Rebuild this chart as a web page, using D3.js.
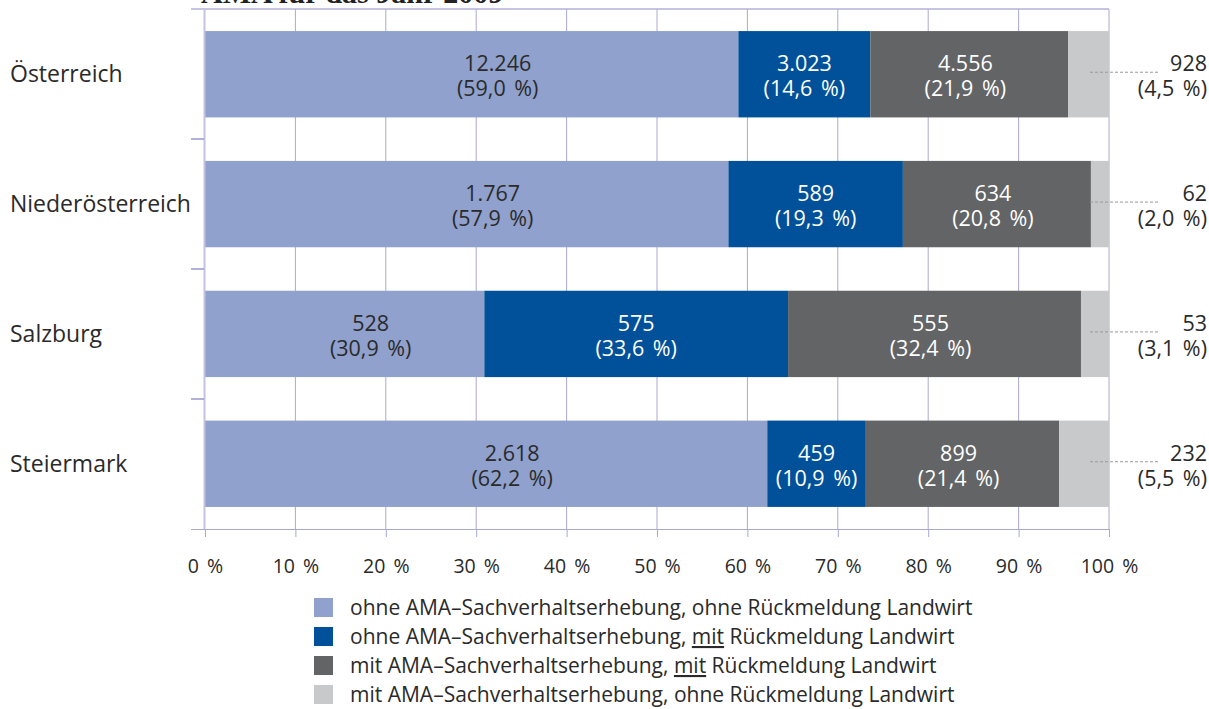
<!DOCTYPE html>
<html>
<head>
<meta charset="utf-8">
<script src="https://cdn.jsdelivr.net/npm/d3@7"></script>
<style>
body{margin:0;background:#fff;}
text{font-family:"Open Sans",Arial,sans-serif;}
</style>
</head>
<body>
<div id="chart"></div>
<script>
var categories = ["Österreich","Niederösterreich","Salzburg","Steiermark"];
var counts = [
    [12246,3023,4556,928],
    [1767,589,634,62],
    [528,575,555,53],
    [2618,459,899,232]
];
var percents = [
    [59.0,14.6,21.9,4.5],
    [57.9,19.3,20.8,2.0],
    [30.9,33.6,32.4,3.1],
    [62.2,10.9,21.4,5.5]
];
var ticks = [0,10,20,30,40,50,60,70,80,90,100];
var legendLabels = [
    ["ohne AMA–Sachverhaltserhebung, ohne Rückmeldung Landwirt"],
    ["ohne AMA–Sachverhaltserhebung, ","mit"," Rückmeldung Landwirt"],
    ["mit AMA–Sachverhaltserhebung, ","mit"," Rückmeldung Landwirt"],
    ["mit AMA–Sachverhaltserhebung, ohne Rückmeldung Landwirt"]
];
var colors = ["#8fa1cc","#00519a","#636466","#c8c9cb"];
var textColors = ["#2a2a2a","#fff","#fff","#2a2a2a"];
var labelShift = [26,0,-4,0];

var width = 1209, height = 709;
var pLeft = 205, pRight = 1109, pTop = 9, pBottom = 529;

var svg = d3.select("#chart").append("svg")
    .attr("width",width).attr("height",height);

var x = d3.scaleLinear().domain([0,100]).range([pLeft,pRight]);
var y = d3.scaleBand().domain(categories).range([pTop,pBottom]).paddingInner(0.335).paddingOuter(0.17);

// title (cut off at top)
svg.append("text")
    .attr("x",201).attr("y",3)
    .style("font-family","'Liberation Serif',serif")
    .style("font-weight","bold")
    .style("font-size","30px")
    .attr("fill","#222")
    .text("AMA für das Jahr 2009");

// grid
svg.append("g").selectAll("line").data(ticks.slice(1)).enter().append("line")
    .attr("x1",function(d){return x(d);}).attr("x2",function(d){return x(d);})
    .attr("y1",pTop).attr("y2",pBottom)
    .attr("stroke","#aaa8d2").attr("stroke-width",1);
svg.append("line").attr("x1",191).attr("x2",pRight).attr("y1",pTop).attr("y2",pTop)
    .attr("stroke","#b3b1d8").attr("stroke-width",1.5);

var fmt = d3.formatLocale({decimal:",",thousands:".",grouping:[3]});

// bars
var rows = svg.append("g").selectAll("g").data(categories).enter().append("g");
rows.each(function(cat,i){
    var g = d3.select(this);
    var acc = 0;
    percents[i].forEach(function(p,j){
        var x0 = acc, x1 = (j==3) ? 100 : acc + p;
        acc += p;
        g.append("rect")
            .attr("x",x(x0)).attr("y",y(cat))
            .attr("width",x(x1)-x(x0)).attr("height",y.bandwidth())
            .attr("fill",colors[j]);
        var cy = y(cat)+y.bandwidth()/2;
        var lines = [fmt.format(",")(counts[i][j]), "("+fmt.format(".1f")(p)+" %)"];
        if(j<3){
            var cx = (x(x0)+x(x1))/2 + labelShift[j];
            var t = g.append("text").attr("text-anchor","middle")
                .attr("fill",textColors[j]).style("font-size","21.5px")
                .style("word-spacing","3px");
            t.append("tspan").attr("x",cx).attr("y",cy-3).text(lines[0]);
            t.append("tspan").attr("x",cx).attr("y",cy+22).text(lines[1]);
        } else {
            g.append("line").attr("x1",1090).attr("x2",1158)
                .attr("y1",cy-2).attr("y2",cy-2)
                .attr("stroke","#9a9a9a").attr("stroke-dasharray","3,2");
            var t2 = g.append("text").attr("text-anchor","end")
                .attr("fill","#2a2a2a").style("font-size","21.5px")
                .style("word-spacing","3px");
            t2.append("tspan").attr("x",1207).attr("y",cy-3).text(lines[0]);
            t2.append("tspan").attr("x",1207).attr("y",cy+22).text(lines[1]);
        }
    });
    g.append("text").attr("x",10).attr("y",y(cat)+y.bandwidth()/2+8)
        .attr("fill","#2a2a2a").style("font-size","23px").text(cat);
});

// left axis
svg.append("line").attr("x1",pLeft-0.5).attr("x2",pLeft-0.5).attr("y1",pTop).attr("y2",pBottom)
    .attr("stroke","#c4c2e0").attr("stroke-width",2);
var step = (pBottom-pTop)/categories.length;
svg.append("g").selectAll("line").data(d3.range(1,categories.length)).enter().append("line")
    .attr("x1",191).attr("x2",pLeft-1)
    .attr("y1",function(d){return pTop+d*step;}).attr("y2",function(d){return pTop+d*step;})
    .attr("stroke","#9896cc").attr("stroke-width",1.5);

// bottom axis
var xAxis = d3.axisBottom(x).tickValues(ticks).tickSize(8).tickPadding(22)
    .tickFormat(function(d){return d+" %";});
var ax = svg.append("g").attr("transform","translate(0,"+pBottom+")").call(xAxis);
ax.select(".domain").attr("d","M191,0.5H"+pRight).attr("stroke","#aaa8d2");
ax.selectAll(".tick line").attr("stroke","#aaa8d2");
ax.selectAll(".tick text").attr("fill","#2a2a2a").style("font-size","19.5px")
    .style("word-spacing","3px")
    .style("font-family","'Open Sans',Arial,sans-serif");

// legend
var leg = svg.append("g").selectAll("g").data(legendLabels).enter().append("g")
    .attr("transform",function(d,i){return "translate(314,"+(598+i*29)+")";});
leg.append("rect").attr("width",19).attr("height",19)
    .attr("fill",function(d,i){return colors[i];});
leg.append("text").attr("x",36).attr("y",17).attr("fill","#2a2a2a").style("font-size","21px")
    .each(function(d){
        var t = d3.select(this);
        d.forEach(function(part,k){
            var sp = t.append("tspan").text(part);
            if(d.length==3 && k==1) sp.attr("text-decoration","underline");
        });
    });
</script>
</body>
</html>
